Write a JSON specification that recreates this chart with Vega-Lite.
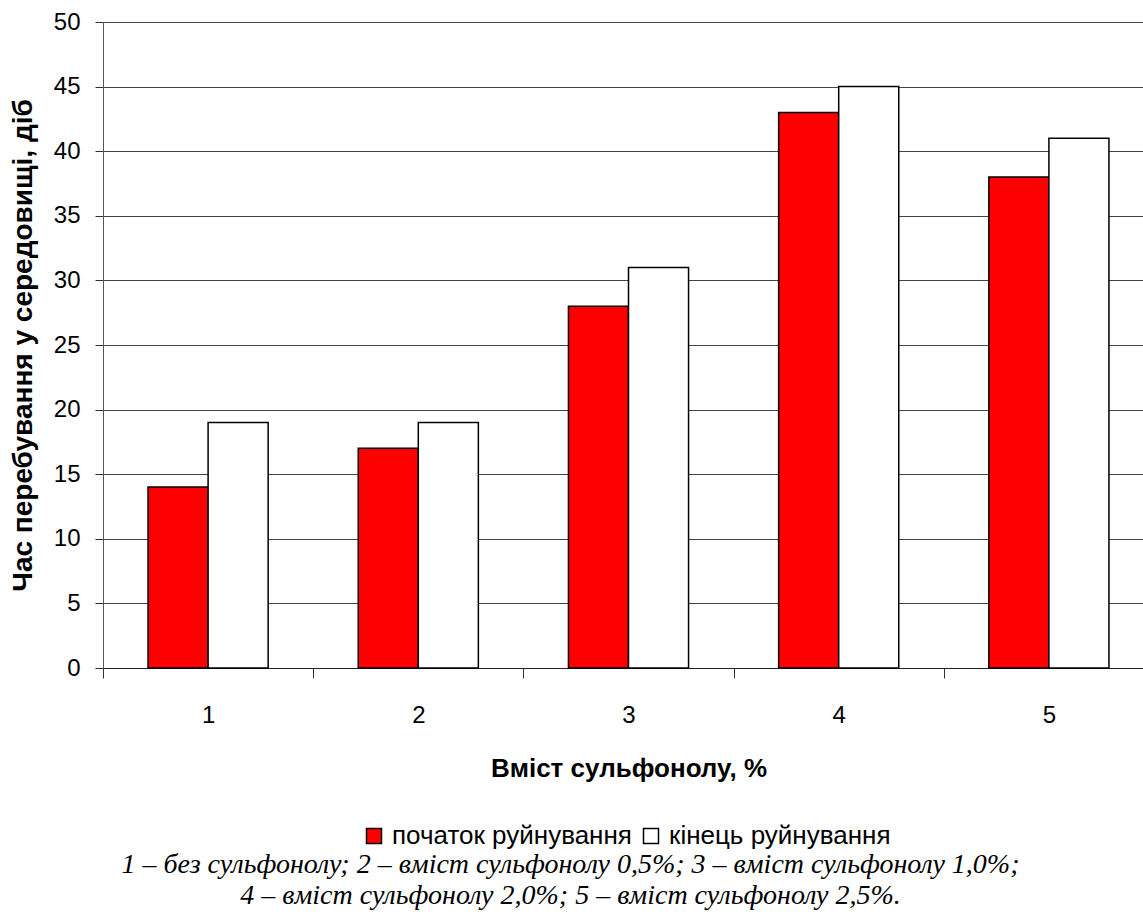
{
  "$schema": "https://vega.github.io/schema/vega-lite/v6.json",
  "width": 1051,
  "height": 646,
  "autosize": {"type": "none"},
  "padding": {"left": 103, "top": 22, "right": 0, "bottom": 250},
  "background": "white",
  "config": {"view": {"stroke": null}, "font": "Liberation Sans"},
  "title": {
    "text": ["1 – без сульфонолу; 2 – вміст сульфонолу 0,5%; 3 – вміст сульфонолу 1,0%;", "4 – вміст сульфонолу 2,0%; 5 – вміст сульфонолу 2,5%."],
    "orient": "bottom",
    "anchor": "middle",
    "font": "Liberation Serif",
    "fontStyle": "italic",
    "fontWeight": "normal",
    "fontSize": 28,
    "lineHeight": 31,
    "color": "black",
    "offset": 2,
    "dx": -58
  },
  "data": {
    "values": [
      {"cat": "1", "series": "початок руйнування", "v": 14},
      {"cat": "1", "series": "кінець руйнування", "v": 19},
      {"cat": "2", "series": "початок руйнування", "v": 17},
      {"cat": "2", "series": "кінець руйнування", "v": 19},
      {"cat": "3", "series": "початок руйнування", "v": 28},
      {"cat": "3", "series": "кінець руйнування", "v": 31},
      {"cat": "4", "series": "початок руйнування", "v": 43},
      {"cat": "4", "series": "кінець руйнування", "v": 45},
      {"cat": "5", "series": "початок руйнування", "v": 38},
      {"cat": "5", "series": "кінець руйнування", "v": 41}
    ]
  },
  "mark": {"type": "bar", "stroke": "black", "strokeWidth": 1.5},
  "encoding": {
    "x": {
      "field": "cat", "type": "nominal",
      "scale": {"paddingInner": 0, "paddingOuter": 0},
      "axis": {
        "title": "Вміст сульфонолу, %",
        "titleFont": "Liberation Sans", "titleFontSize": 26, "titleFontWeight": "bold", "titleColor": "black",
        "titlePadding": 28,
        "labelAngle": 0, "labelFontSize": 24, "labelColor": "black", "labelPadding": 25,
        "tickBand": "extent", "tickSize": 10, "tickColor": "#333", "domainColor": "#222",
        "grid": false
      }
    },
    "xOffset": {
      "field": "series", "type": "nominal",
      "sort": ["початок руйнування", "кінець руйнування"],
      "scale": {"paddingInner": 0, "paddingOuter": 0.75}
    },
    "y": {
      "field": "v", "type": "quantitative",
      "scale": {"domain": [0, 50], "nice": false},
      "axis": {
        "title": "Час перебування у середовищі, діб",
        "titleFont": "Liberation Sans", "titleFontSize": 28, "titleFontWeight": "bold", "titleColor": "black",
        "titlePadding": 16,
        "values": [0, 5, 10, 15, 20, 25, 30, 35, 40, 45, 50],
        "labelFontSize": 24, "labelColor": "black", "labelPadding": 15,
        "tickSize": 8, "tickColor": "#333", "domainColor": "#555",
        "grid": true, "gridColor": "#444", "gridWidth": 1
      }
    },
    "fill": {
      "field": "series", "type": "nominal",
      "sort": ["початок руйнування", "кінець руйнування"],
      "scale": {"range": ["#FF0000", "#FFFFFF"]},
      "legend": {
        "title": null,
        "orient": "none",
        "direction": "horizontal",
        "legendX": 258,
        "legendY": 801,
        "symbolType": "square",
        "symbolSize": 225,
        "symbolStrokeColor": "black",
        "symbolStrokeWidth": 1.5,
        "labelFontSize": 26,
        "labelColor": "black",
        "labelOffset": 5,
        "columnPadding": 6,
        "labelLimit": 400
      }
    }
  }
}
